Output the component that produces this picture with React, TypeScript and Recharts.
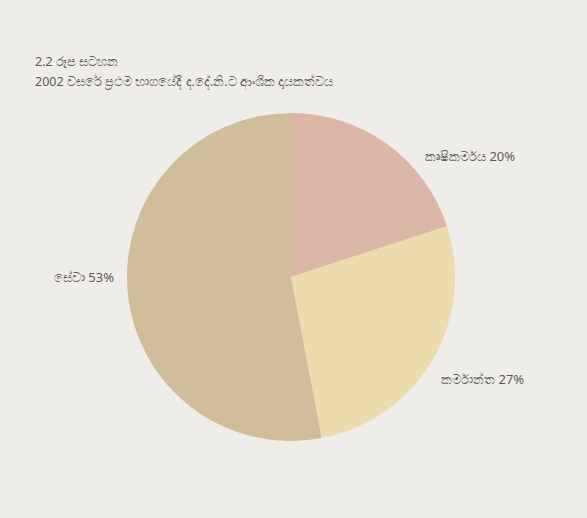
import { PieChart, Pie, Cell } from 'recharts';

const sectors = ['කෘෂිකර්මය', 'කර්මාන්ත', 'සේවා'];
const shares = [20, 27, 53];
const titleLines = ['2.2 රූප සටහන', '2002 වසරේ ප්‍රථම භාගයේදී ද.දේ.නි.ට ආංශික දායකත්වය'];

const colors = ['#dcb6a6', '#ecdcac', '#d0bd9a'];
// where each label sits: angle (deg, counter-clockwise from 3 o'clock) and distance from centre
const labelSpots = [
  { angle: 34, r: 216 },
  { angle: -28, r: 217 },
  { angle: 180, r: 207 },
];

const data = sectors.map((name, i) => ({ name, value: shares[i] }));

const RAD = Math.PI / 180;

const renderLabel = (props: any) => {
  const { cx, cy, index, name, value } = props;
  const spot = labelSpots[index];
  const x = cx + spot.r * Math.cos(spot.angle * RAD);
  const y = cy - spot.r * Math.sin(spot.angle * RAD);
  return (
    <text x={x} y={y} textAnchor="middle" dominantBaseline="central" fill="#5d5b58" fontSize={13}>
      {`${name} ${value}%`}
    </text>
  );
};

const App = () => {
  return (
    <div
      style={{
        position: 'fixed',
        left: 0,
        top: 0,
        width: 587,
        height: 518,
        background: '#efede9',
        fontFamily: '"Noto Sans", "DejaVu Sans", sans-serif',
      }}
    >
      <div style={{ position: 'absolute', left: 35, top: 52, color: '#5d5b58', fontSize: 12.5, lineHeight: '20px' }}>
        {titleLines.map((t) => (
          <div key={t}>{t}</div>
        ))}
      </div>
      <PieChart width={587} height={518} margin={{ top: 0, right: 0, bottom: 0, left: 0 }}>
        <Pie
          data={data}
          dataKey="value"
          nameKey="name"
          cx={291}
          cy={277}
          outerRadius={164}
          startAngle={90}
          endAngle={-270}
          stroke="none"
          label={renderLabel}
          labelLine={false}
          isAnimationActive={false}
        >
          {data.map((d, i) => (
            <Cell key={d.name} fill={colors[i]} />
          ))}
        </Pie>
      </PieChart>
    </div>
  );
};

export default App;
